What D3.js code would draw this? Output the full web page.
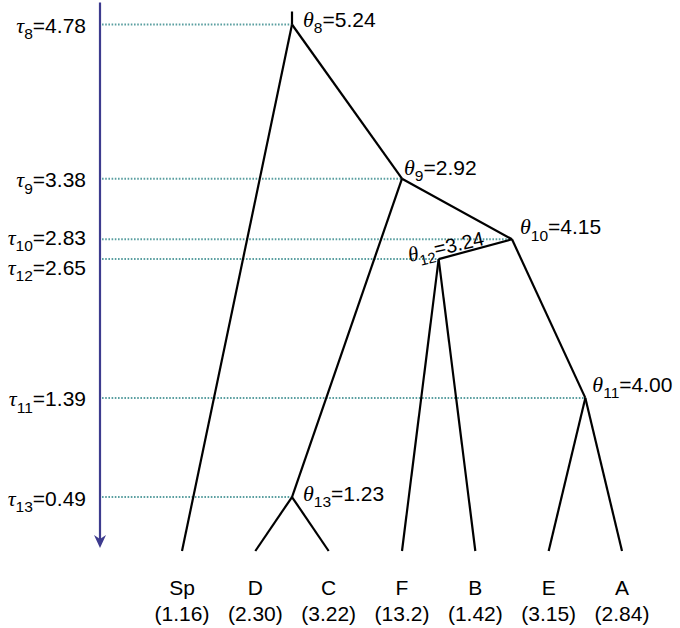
<!DOCTYPE html>
<html>
<head>
<meta charset="utf-8">
<script src="https://cdn.jsdelivr.net/npm/d3@7"></script>
<style>
  body { margin: 0; background: #fff; }
  text { font-family: 'Liberation Sans', Arial, sans-serif; fill: #000; }
</style>
</head>
<body>
<svg width="680" height="628"></svg>
<script>
// species at the tips and their theta values
const tipNames = ['Sp', 'D', 'C', 'F', 'B', 'E', 'A']
const tipTheta = ['1.16', '2.30', '3.22', '13.2', '1.42', '3.15', '2.84']

// internal nodes: id, divergence time tau, theta, children
const nodeIds = [8, 9, 10, 11, 12, 13]
const nodeTau = ['4.78', '3.38', '2.83', '1.39', '2.65', '0.49']
const nodeTheta = ['5.24', '2.92', '4.15', '4.00', '3.24', '1.23']
const nodeChildren = [['Sp', 9], [13, 10], [12, 11], ['E', 'A'], ['F', 'B'], ['D', 'C']]

// label nudges (layout only)
const tauShift = {10: -3, 12: 7}
const thetaOffset = {
  8: [11, 2.5, 0], 9: [2, -4, 0], 10: [8, -5, 0],
  11: [7, -6, 0], 12: [-29, 3, -13], 13: [11, 4, 0]
}

const svg = d3.select('svg')
const axisX = 100

const yScale = d3.scaleLinear().domain([0, 4.78]).range([551, 24.5])
const xScale = d3.scalePoint().domain(tipNames).range([182, 622])

// build nested tree
const build = key => {
  const i = nodeIds.indexOf(key)
  if (i < 0) return {name: key, tau: 0, theta: tipTheta[tipNames.indexOf(key)]}
  return {id: key, tau: +nodeTau[i], tauLabel: nodeTau[i], theta: nodeTheta[i],
    children: nodeChildren[i].map(build)}
}
const root = d3.hierarchy(build(8))
root.eachAfter(d => {
  d.x = d.children ? d3.mean(d.children, c => c.x) : xScale(d.data.name)
  d.y = yScale(d.data.tau)
})
const inner = root.descendants().filter(d => d.children)

// dotted guide lines
svg.append('g').selectAll('line')
  .data(inner)
  .enter()
  .append('line')
  .attr('x1', axisX + 2)
  .attr('x2', d => d.x)
  .attr('y1', d => d.y)
  .attr('y2', d => d.y)
  .attr('stroke', '#5a9fa0')
  .attr('stroke-width', 2)
  .attr('stroke-dasharray', '1.6,1.6')

// time arrow
const axisColor = '#3d3b8e'
const tip = yScale(0) - 3
svg.append('line')
  .attr('x1', axisX).attr('x2', axisX)
  .attr('y1', yScale(4.98)).attr('y2', tip - 8)
  .attr('stroke', axisColor).attr('stroke-width', 2.2)
svg.append('path')
  .attr('d', `M${axisX},${tip} L${axisX - 6},${tip - 13} L${axisX},${tip - 9} L${axisX + 6},${tip - 13} Z`)
  .attr('fill', axisColor)

// tree branches
svg.append('g').selectAll('line')
  .data(root.links())
  .enter()
  .append('line')
  .attr('x1', d => d.source.x)
  .attr('y1', d => d.source.y)
  .attr('x2', d => d.target.x)
  .attr('y2', d => d.target.y)
  .attr('stroke', '#000')
  .attr('stroke-width', 2.2)
svg.append('line')
  .attr('x1', root.x).attr('x2', root.x)
  .attr('y1', root.y).attr('y2', root.y - 13)
  .attr('stroke', '#000').attr('stroke-width', 2.2)

const symLabel = (sel, sym, sub, val, size) => {
  sel.append('tspan').text(sym)
    .attr('font-family', "'Liberation Serif', serif")
    .attr('font-style', 'italic')
    .attr('font-size', size + 1)
  sel.append('tspan').text(sub)
    .attr('font-size', size * 0.74)
    .attr('dy', size * 0.3)
  sel.append('tspan').text('=' + val)
    .attr('dy', -size * 0.3)
}

// tau labels on the left
inner.forEach(d => {
  const t = svg.append('text')
    .attr('x', 86)
    .attr('y', d.y + 8.5 + (tauShift[d.data.id] || 0))
    .attr('text-anchor', 'end')
    .attr('font-size', 21)
  symLabel(t, 'τ', d.data.id, d.data.tauLabel, 21)
})

// theta labels at nodes
inner.forEach(d => {
  const [dx, dy, rot] = thetaOffset[d.data.id]
  const size = rot ? 20 : 21
  const t = svg.append('text')
    .attr('transform', `translate(${d.x + dx},${d.y + dy}) rotate(${rot})`)
    .attr('font-size', size)
  symLabel(t, 'θ', d.data.id, d.data.theta, size)
})

// tip labels
const leaves = root.leaves()
svg.append('g').selectAll('text.name')
  .data(leaves)
  .enter()
  .append('text')
  .attr('x', d => d.x)
  .attr('y', 595)
  .attr('text-anchor', 'middle')
  .attr('font-size', 21)
  .text(d => d.data.name)
svg.append('g').selectAll('text.val')
  .data(leaves)
  .enter()
  .append('text')
  .attr('x', d => d.x)
  .attr('y', 621)
  .attr('text-anchor', 'middle')
  .attr('font-size', 21)
  .text(d => `(${d.data.theta})`)
</script>
</body>
</html>
